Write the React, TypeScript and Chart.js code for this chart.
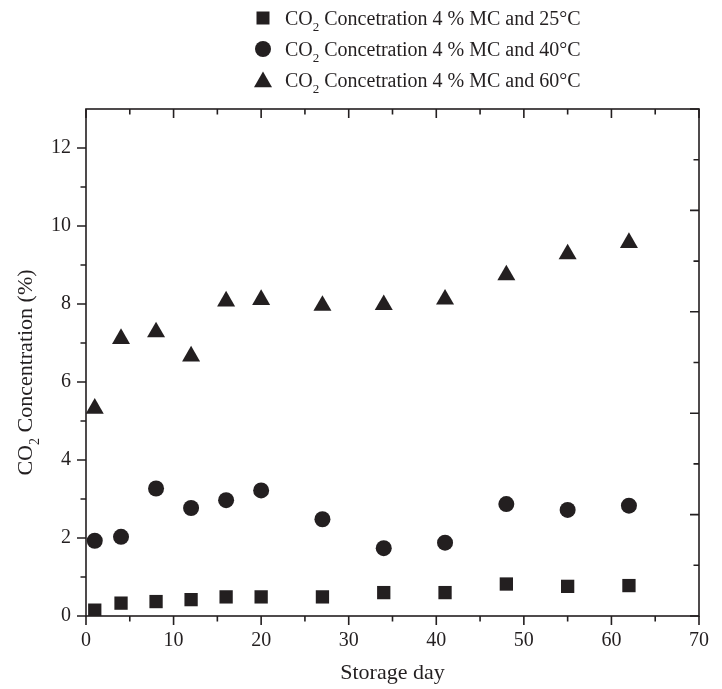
import React, { useEffect, useRef } from 'react';
import { Chart, registerables } from 'chart.js';

Chart.register(...registerables);

const days = [1, 4, 8, 12, 16, 20, 27, 34, 41, 48, 55, 62];
const co2At25 = [0.15, 0.33, 0.37, 0.42, 0.49, 0.49, 0.49, 0.6, 0.6, 0.82, 0.76, 0.78];
const co2At40 = [1.93, 2.03, 3.27, 2.77, 2.97, 3.22, 2.48, 1.74, 1.88, 2.87, 2.72, 2.83];
const co2At60 = [5.32, 7.11, 7.28, 6.66, 8.07, 8.11, 7.96, 7.98, 8.12, 8.74, 9.28, 9.57];

const seriesLabels = [
  ' Concetration 4 % MC and 25°C',
  ' Concetration 4 % MC and 40°C',
  ' Concetration 4 % MC and 60°C',
];
const xTitle = 'Storage day';
const yTitleRest = ' Concentration (%)';

const INK = '#231f20';
const SERIF = "'Liberation Serif', 'Times New Roman', serif";

function drawCO2(ctx: CanvasRenderingContext2D, x: number, y: number, rest: string, size: number, align: 'left' | 'center') {
  const big = `${size}px ${SERIF}`;
  const small = `${Math.round(size * 0.65)}px ${SERIF}`;
  ctx.font = big;
  const w1 = ctx.measureText('CO').width;
  const w3 = ctx.measureText(rest).width;
  ctx.font = small;
  const w2 = ctx.measureText('2').width;
  const total = w1 + w2 + w3;
  const x0 = align === 'center' ? x - total / 2 : x;
  ctx.textAlign = 'left';
  ctx.textBaseline = 'alphabetic';
  ctx.fillStyle = INK;
  ctx.font = big;
  ctx.fillText('CO', x0, y);
  ctx.font = small;
  ctx.fillText('2', x0 + w1, y + size * 0.3);
  ctx.font = big;
  ctx.fillText(rest, x0 + w1 + w2, y);
}

function drawMarker(ctx: CanvasRenderingContext2D, kind: string, x: number, y: number) {
  ctx.fillStyle = INK;
  ctx.beginPath();
  if (kind === 'rect') {
    const s = 6.5;
    ctx.rect(x - s, y - s, 2 * s, 2 * s);
  } else if (kind === 'circle') {
    ctx.arc(x, y, 8, 0, Math.PI * 2);
  } else {
    const r = 10.4;
    ctx.moveTo(x, y - r);
    ctx.lineTo(x + r * Math.sin(Math.PI * 2 / 3), y + r / 2);
    ctx.lineTo(x - r * Math.sin(Math.PI * 2 / 3), y + r / 2);
    ctx.closePath();
  }
  ctx.fill();
}

const framePlugin = {
  id: 'frameTicks',
  afterDraw(chart: any) {
    const ctx: CanvasRenderingContext2D = chart.ctx;
    const { left, right, top, bottom } = chart.chartArea;
    const x = chart.scales.x;
    const y = chart.scales.y;
    const y2 = chart.scales.y2;
    ctx.save();
    ctx.strokeStyle = INK;
    ctx.lineWidth = 1.6;
    ctx.strokeRect(left, top, right - left, bottom - top);
    ctx.beginPath();
    for (let v = 0; v <= 70; v += 5) {
      const px = x.getPixelForValue(v);
      const len = v % 10 === 0 ? 9 : 5.5;
      ctx.moveTo(px, bottom);
      ctx.lineTo(px, bottom + len);
      ctx.moveTo(px, top);
      ctx.lineTo(px, top + len);
    }
    for (let v = 0; v <= 12; v += 1) {
      const py = y.getPixelForValue(v);
      const len = v % 2 === 0 ? 9 : 5.5;
      ctx.moveTo(left - len, py);
      ctx.lineTo(left, py);
    }
    for (let v = 0; v <= 10; v += 1) {
      const py = y2.getPixelForValue(v);
      const len = v % 2 === 0 ? 9 : 5.5;
      ctx.moveTo(right - len, py);
      ctx.lineTo(right, py);
    }
    ctx.stroke();

    // y axis title (rotated, with subscript)
    ctx.save();
    ctx.translate(32, (top + bottom) / 2 + 10);
    ctx.rotate(-Math.PI / 2);
    drawCO2(ctx, 0, 0, yTitleRest, 22, 'center');
    ctx.restore();

    // legend
    const kinds = ['rect', 'circle', 'triangle'];
    const rowsY = [18, 49, 80];
    kinds.forEach((k, i) => {
      drawMarker(ctx, k, 263, rowsY[i] + (k === 'triangle' ? 2 : 0));
      drawCO2(ctx, 285, rowsY[i] + 7, seriesLabels[i], 20, 'left');
    });
    ctx.restore();
  },
};

export default function App() {
  const ref = useRef<HTMLCanvasElement | null>(null);
  useEffect(() => {
    document.body.style.margin = '0';
    const canvas = ref.current!;
    const tickFont = { family: SERIF, size: 20 };
    const chart = new Chart(canvas, {
      type: 'scatter',
      data: {
        datasets: [
          {
            label: 'CO2 Concetration 4 % MC and 25°C',
            data: days.map((d, i) => ({ x: d, y: co2At25[i] })),
            pointStyle: 'rect',
            pointRadius: 9.4,
            backgroundColor: INK,
            borderColor: INK,
            borderWidth: 0,
          },
          {
            label: 'CO2 Concetration 4 % MC and 40°C',
            data: days.map((d, i) => ({ x: d, y: co2At40[i] })),
            pointStyle: 'circle',
            pointRadius: 8,
            backgroundColor: INK,
            borderColor: INK,
            borderWidth: 0,
          },
          {
            label: 'CO2 Concetration 4 % MC and 60°C',
            data: days.map((d, i) => ({ x: d, y: co2At60[i] })),
            pointStyle: 'triangle',
            pointRadius: 10.4,
            backgroundColor: INK,
            borderColor: INK,
            borderWidth: 0,
          },
        ],
      },
      options: {
        responsive: false,
        animation: false,
        devicePixelRatio: 1,
        layout: { padding: 0 },
        plugins: { legend: { display: false }, tooltip: { enabled: false } },
        scales: {
          x: {
            type: 'linear',
            position: 'bottom',
            min: 0,
            max: 70,
            grid: { display: false, drawTicks: false },
            border: { display: false },
            ticks: { stepSize: 10, font: tickFont, color: INK, padding: 13, maxRotation: 0 },
            title: {
              display: true,
              text: xTitle,
              font: { family: SERIF, size: 22 },
              color: INK,
              padding: { top: 0, bottom: 3 },
            },
            afterFit: (s: any) => { s.height = 73; },
          },
          x2: {
            type: 'linear',
            position: 'top',
            min: 0,
            max: 70,
            grid: { display: false, drawTicks: false },
            border: { display: false },
            ticks: { display: false },
            afterFit: (s: any) => { s.height = 109; },
          },
          y: {
            type: 'linear',
            position: 'left',
            min: 0,
            max: 13,
            grid: { display: false, drawTicks: false },
            border: { display: false },
            ticks: { stepSize: 2, font: tickFont, color: INK, padding: 15 },
            afterBuildTicks: (s: any) => { s.ticks = s.ticks.filter((t: any) => t.value % 2 === 0); },
            afterFit: (s: any) => { s.width = 86; },
          },
          y2: {
            type: 'linear',
            position: 'right',
            min: 0,
            max: 10,
            grid: { display: false, drawTicks: false },
            border: { display: false },
            ticks: { display: false },
            afterFit: (s: any) => { s.width = 10; },
          },
        },
      },
      plugins: [framePlugin],
    } as any);
    return () => chart.destroy();
  }, []);
  return (
    <div style={{ width: 722, height: 689, background: '#fff' }}>
      <canvas ref={ref} width={722} height={689} style={{ display: 'block', width: 722, height: 689 }} />
    </div>
  );
}
